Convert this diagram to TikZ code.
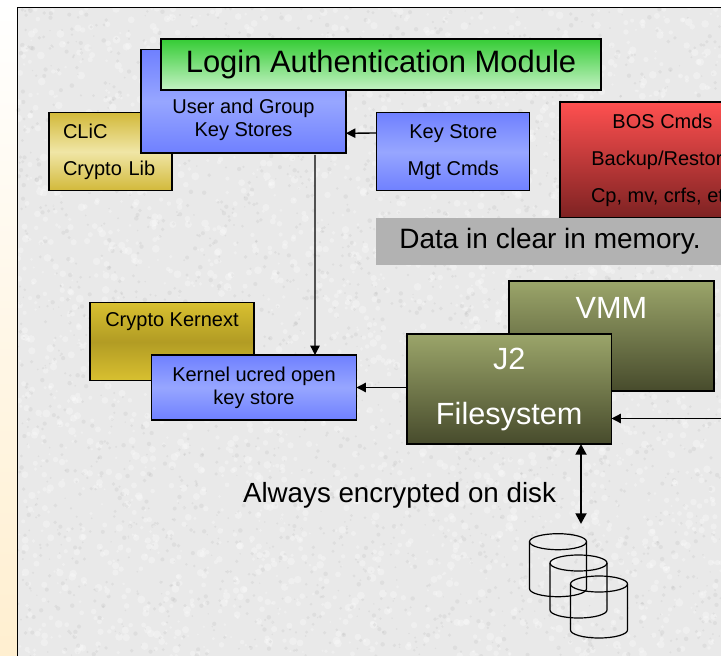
\documentclass[tikz,border=0pt]{standalone}
\usepackage{fontspec}
\setmainfont{Liberation Sans}
\usepackage{xcolor}
\usetikzlibrary{arrows.meta}
\definecolor{panel}{HTML}{E9E9E9}
\definecolor{cream}{HTML}{FFEFD0}
\definecolor{blueedge}{HTML}{6F80FF}
\definecolor{bluemid}{HTML}{97A6FF}
\definecolor{greentop}{HTML}{35CC35}
\definecolor{greenlow}{HTML}{C4F2C4}
\definecolor{goldedge}{HTML}{D2B93A}
\definecolor{goldpale}{HTML}{F0E6A6}
\definecolor{goldtop}{HTML}{D8C030}
\definecolor{golddark}{HTML}{B29C24}
\definecolor{redtop}{HTML}{FF5050}
\definecolor{redlow}{HTML}{7D2222}
\definecolor{olivetop}{HTML}{9BA56A}
\definecolor{olivelow}{HTML}{474B2C}
\definecolor{memgrey}{HTML}{B2B2B2}
\tikzset{
  box/.style={draw=black, line width=0.8pt, outer sep=0pt, inner sep=0pt, align=center,
    font=\fontsize{15}{17.25}\selectfont},
  wide/.style={font=\fontsize{15}{27.75}\selectfont},
  bluebox/.style={box, top color=blueedge, bottom color=blueedge, middle color=bluemid},
  goldbox/.style={box, top color=goldedge, bottom color=goldedge, middle color=goldpale},
  kernbox/.style={box, top color=goldtop, bottom color=goldtop, middle color=golddark},
  redbox/.style={box, wide, top color=redtop, bottom color=redlow},
  olive/.style={box, top color=olivetop, bottom color=olivelow, text=white,
    font=\fontsize{23}{41.25}\selectfont},
  link/.style={draw=black, line width=1pt, -{Triangle[length=7pt,width=7pt]}},
  biglink/.style={draw=black, line width=2.2pt, {Triangle[length=8pt,width=8pt]}-{Triangle[length=8pt,width=8pt]}},
  disk/.style={draw=black, line width=0.9pt},
}
\begin{document}
\begin{tikzpicture}[x=0.75pt, y=-0.75pt]
  \useasboundingbox (0,0) rectangle (721,656);
  \clip (0,0) rectangle (721,656);
  \shade[top color=white, bottom color=cream] (0,0) rectangle (721,656);
  \fill[panel] (17.5,7.5) rectangle (730,665);
  \pgfmathsetseed{42}
  \foreach \i in {1,...,2800} {
    \pgfmathsetmacro{\sx}{18+rnd*703}
    \pgfmathsetmacro{\sy}{8+rnd*648}
    \pgfmathsetmacro{\sr}{1+rnd*3}
    \fill[white, opacity=0.28] (\sx,\sy) circle (\sr);
    \pgfmathsetmacro{\sx}{18+rnd*703}
    \pgfmathsetmacro{\sy}{8+rnd*648}
    \pgfmathsetmacro{\sr}{0.7+rnd*1.6}
    \fill[black!50, opacity=0.10] (\sx,\sy) circle (\sr);
  }
  \draw[black, line width=1.1pt] (730,7.5) -- (17.5,7.5) -- (17.5,665);

  \node[goldbox, wide, minimum width=92.25pt, minimum height=58.5pt, text width=71.25pt,
    align=left] (clic) at (110.5,151.7) {CLiC\\Crypto Lib};
  \node[bluebox, minimum width=153.75pt, minimum height=77.6pt, text height=55.5pt] (usergrp)
    at (243.5,101.25) {User and Group\\Key Stores};
  \node[box, top color=greentop, bottom color=greenlow, minimum width=330pt, minimum height=38.25pt,
    font=\fontsize{23.2}{27}\selectfont] (login) at (381,64.5) {Login Authentication Module};
  \node[bluebox, wide, minimum width=115pt, minimum height=58.5pt] (keystore)
    at (453.25,151.7) {Key Store\\Mgt Cmds};
  \node[redbox, minimum width=153.75pt, minimum height=87pt] (bos)
    at (662.5,160) {BOS Cmds\\Backup/Restore\\Cp, mv, crfs, etc};
  \node[fill=memgrey, outer sep=0pt, inner sep=0pt, minimum width=261pt, minimum height=35.25pt,
    font=\fontsize{21}{24}\selectfont] (memory) at (550,241.5) {Data in clear in memory.};

  \node[kernbox, minimum width=123pt, minimum height=58.5pt, text height=11pt, text depth=33pt] (kernext)
    at (172,341.6) {Crypto Kernext};
  \node[bluebox, minimum width=153.75pt, minimum height=48.75pt] (kernel)
    at (254,387.5) {Kernel ucred open\\key store};
  \node[olive, minimum width=153.75pt, minimum height=82.5pt, text height=16.5pt, text depth=43.5pt] (vmm)
    at (611.5,336) {VMM};
  \node[olive, minimum width=153.4pt, minimum height=82.5pt] (jfs)
    at (509.25,389) {J2\\Filesystem};

  \node[font=\fontsize{20.8}{24}\selectfont, inner sep=0pt] (ondisk) at (399.5,495) {Always encrypted on disk};

  \coordinate (vmmin) at (730,418.5);
  \coordinate (diskin) at (581,524);

  \draw[link, shorten <=1.5pt] ([xshift=53.6pt]usergrp.south) -- ([xshift=45.75pt]kernel.north);
  \draw[link] ([yshift=14pt]keystore.west) -- ([yshift=-24pt]usergrp.east);
  \draw[link] (jfs.west |- kernel.east) -- (kernel.east);
  \draw[link] (vmmin) -- (vmmin -| jfs.east);
  \draw[biglink] (jfs.south -| diskin) -- (diskin);

  \foreach \cx/\ct/\cb in {558/541.7/588.7, 578.5/563/610, 599/584/630} {
    \draw[disk] (\cx,\ct) ellipse (28.5 and 8);
    \draw[disk] (\cx-28.5,\ct) -- (\cx-28.5,\cb)
      arc[start angle=180, end angle=0, x radius=28.5, y radius=8] -- (\cx+28.5,\ct);
  }
\end{tikzpicture}
\end{document}
